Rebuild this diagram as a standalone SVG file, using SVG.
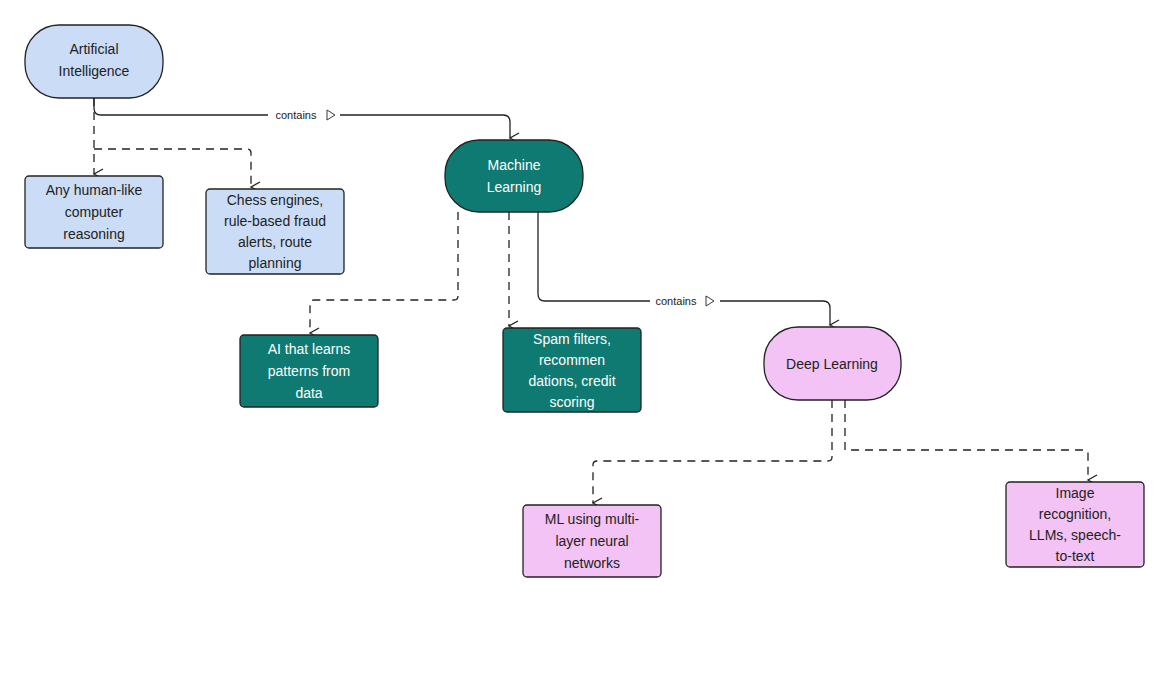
<svg xmlns="http://www.w3.org/2000/svg" width="1169" height="687" viewBox="0 0 1169 687">
<style>
.n{stroke:#222;stroke-width:1.3}
.b{fill:#cadcf6}.t{fill:#0f7a72}.p{fill:#f2c3f4}
text{font-family:"Liberation Sans",Arial,sans-serif;font-size:14px;text-anchor:middle}
.d{fill:#222}.w{fill:#fff}
.c{fill:none;stroke:#222;stroke-width:1.3}
.ds{stroke-dasharray:8 6}
.lb{font-size:11px;fill:#222}
</style>
<defs>
<marker id="a" markerWidth="12" markerHeight="12" refX="6" refY="10" orient="auto" markerUnits="userSpaceOnUse" viewBox="0 0 12 12">
<path d="M1 1 L6 10 L11 1" fill="none" stroke="#222" stroke-width="1.3"/>
</marker>
</defs>
<rect width="1169" height="687" fill="#fff"/>
<g id="connectors">
<path class="c" d="M94 98 V108 Q94 115 101 115 H503 Q510 115 510 122 V138" marker-end="url(#a)"/>
<rect x="268" y="107" width="72" height="16" fill="#fff"/>
<text class="lb" x="296" y="119">contains</text>
<path d="M327 110 L335 115 L327 120 Z" fill="#fff" stroke="#222" stroke-width="0.9"/>
<path class="c ds" d="M94 98 V174" marker-end="url(#a)"/>
<path class="c ds" d="M94 149 H247 Q251 149 251 153 V187" marker-end="url(#a)"/>
<path class="c ds" d="M458 212 V296 Q458 300 454 300 H314 Q310 300 310 304 V333" marker-end="url(#a)"/>
<path class="c ds" d="M509 212 V326" marker-end="url(#a)"/>
<path class="c" d="M538 212 V294 Q538 301 545 301 H823 Q830 301 830 308 V325" marker-end="url(#a)"/>
<rect x="650" y="293" width="70" height="16" fill="#fff"/>
<text class="lb" x="676" y="305">contains</text>
<path d="M706 296 L714 301 L706 306 Z" fill="#fff" stroke="#222" stroke-width="0.9"/>
<path class="c ds" d="M832 400 V457 Q832 461 828 461 H597 Q593 461 593 465 V503" marker-end="url(#a)"/>
<path class="c ds" d="M845 400 V450 H1084 Q1088 450 1088 454 V480" marker-end="url(#a)"/>
</g>
<g id="ai"><rect class="n b" x="25" y="25" width="138" height="73" rx="34"/><text class="d" x="94" y="54">Artificial</text><text class="d" x="94" y="76">Intelligence</text></g>
<g id="any"><rect class="n b" x="25" y="176" width="138" height="72" rx="4"/><text class="d" x="94" y="195">Any human-like</text><text class="d" x="94" y="217">computer</text><text class="d" x="94" y="239">reasoning</text></g>
<g id="chess"><rect class="n b" x="206" y="189" width="138" height="85" rx="4"/><text class="d" x="275" y="205">Chess engines,</text><text class="d" x="275" y="226">rule-based fraud</text><text class="d" x="275" y="247">alerts, route</text><text class="d" x="275" y="268">planning</text></g>
<g id="ml"><rect class="n t" x="445" y="140" width="138" height="72" rx="34"/><text class="w" x="514" y="170">Machine</text><text class="w" x="514" y="192">Learning</text></g>
<g id="learns"><rect class="n t" x="240" y="335" width="138" height="72" rx="4"/><text class="w" x="309" y="354">AI that learns</text><text class="w" x="309" y="376">patterns from</text><text class="w" x="309" y="398">data</text></g>
<g id="spam"><rect class="n t" x="503" y="328" width="138" height="84" rx="4"/><text class="w" x="572" y="344">Spam filters,</text><text class="w" x="572" y="365">recommen</text><text class="w" x="572" y="386">dations, credit</text><text class="w" x="572" y="407">scoring</text></g>
<g id="dl"><rect class="n p" x="764" y="327" width="137" height="73" rx="34"/><text class="d" x="832" y="369">Deep Learning</text></g>
<g id="mlusing"><rect class="n p" x="523" y="505" width="138" height="72" rx="4"/><text class="d" x="592" y="524">ML using multi-</text><text class="d" x="592" y="546">layer neural</text><text class="d" x="592" y="568">networks</text></g>
<g id="img"><rect class="n p" x="1006" y="482" width="138" height="85" rx="4"/><text class="d" x="1075" y="498">Image</text><text class="d" x="1075" y="519">recognition,</text><text class="d" x="1075" y="540">LLMs, speech-</text><text class="d" x="1075" y="561">to-text</text></g>
</svg>
